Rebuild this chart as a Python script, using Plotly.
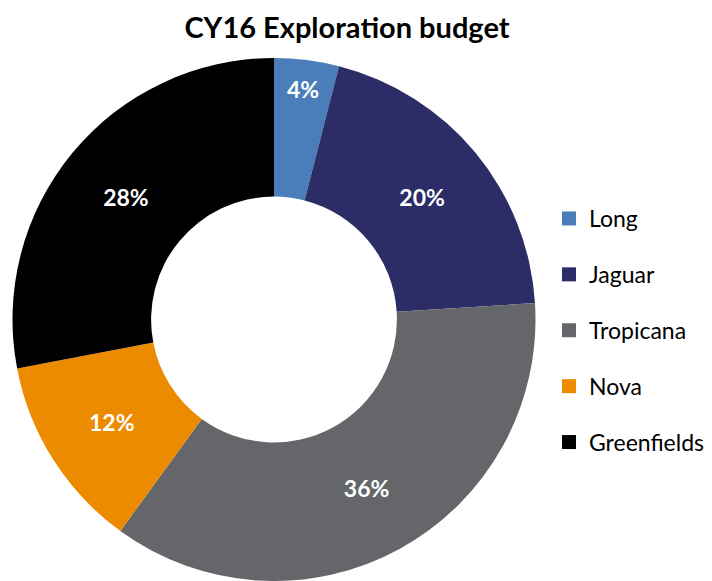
import plotly.graph_objects as go

labels = ["Long", "Jaguar", "Tropicana", "Nova", "Greenfields"]
values = [4, 20, 36, 12, 28]
colors = ["#4a7ebb", "#2c2c66", "#646669", "#ed8b00", "#000000"]

fig = go.Figure()
fig.add_trace(go.Pie(
    labels=labels, values=values, sort=False, direction="clockwise", rotation=0,
    hole=0.47, marker=dict(colors=colors, line=dict(width=0)),
    texttemplate="%{percent:.0%}", textposition="inside", insidetextorientation="horizontal",
    textfont=dict(family="Lato", size=23, color="white", weight="bold"),
    showlegend=False, domain=dict(x=[12/712, 536/712], y=[0, 1]),
))
for lab, col in zip(labels, colors):
    fig.add_trace(go.Scatter(x=[None], y=[None], mode="markers", name=lab,
                             legendgroup=lab,
                             marker=dict(symbol="square", size=14, color=col)))

fig.update_layout(
    width=712, height=581,
    margin=dict(l=0, r=0, t=58, b=0),
    paper_bgcolor="white", plot_bgcolor="white",
    title=dict(text="<b>CY16 Exploration budget</b>", x=347/712, xanchor="center",
               y=1 - 28/581, yanchor="middle",
               font=dict(family="Lato", size=29, color="black")),
    xaxis=dict(visible=False), yaxis=dict(visible=False),
    legend=dict(x=549/712, xanchor="left", y=1 - (197 - 58) / 523, yanchor="top",
                font=dict(family="Lato", size=23, color="black"),
                tracegroupgap=23, itemwidth=30),
)
fig.write_html("out.html", post_script="document.body.style.margin='0';",
               config={"displayModeBar": False})
